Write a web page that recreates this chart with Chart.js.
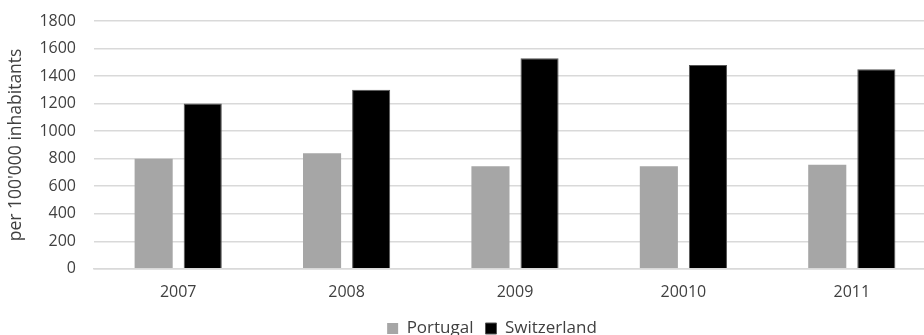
<!DOCTYPE html>
<html>
<head>
<meta charset="utf-8">
<script src="https://cdn.jsdelivr.net/npm/chart.js@4"></script>
<style>
  html, body { margin: 0; padding: 0; background: #fff; overflow: hidden; }
  #wrap { width: 936px; height: 335px; position: relative; }
</style>
</head>
<body>
<div id="wrap"><canvas id="c"></canvas></div>
<script>
const years = ['2007', '2008', '2009', '20010', '2011'];
const portugal = [800, 840, 745, 745, 755];
const switzerland = [1200, 1300, 1530, 1480, 1450];
const yTicks = { min: 0, max: 1800, step: 200 };
const axisTitle = "per 100'000 inhabitants";

const textColor = '#404040';
const gridColor = '#d9d9d9';
const fontFamily = "'Open Sans', 'Liberation Sans', sans-serif";

// Nudges the bottom legend a little to the right of the canvas centre.
const legendShift = {
  id: 'legendShift',
  afterLayout(chart) {
    const lg = chart.legend;
    if (lg) { lg.left += 21; lg.right += 21; }
  }
};

new Chart(document.getElementById('c'), {
  type: 'bar',
  data: {
    labels: years,
    datasets: [
      {
        label: 'Portugal',
        data: portugal,
        backgroundColor: '#a6a6a6',
        borderWidth: 0,
        categoryPercentage: 0.583,
        barPercentage: 0.776
      },
      {
        label: 'Switzerland',
        data: switzerland,
        backgroundColor: '#000000',
        borderColor: '#555555',
        borderWidth: 1,
        categoryPercentage: 0.583,
        barPercentage: 0.776
      }
    ]
  },
  plugins: [legendShift],
  options: {
    responsive: true,
    maintainAspectRatio: false,
    animation: false,
    layout: { padding: { top: 0, left: 6, right: 0, bottom: -12 } },
    plugins: {
      legend: {
        position: 'bottom',
        labels: {
          boxWidth: 11,
          boxHeight: 11,
          padding: 12,
          color: textColor,
          font: { family: fontFamily, size: 17 }
        }
      },
      tooltip: { enabled: false }
    },
    scales: {
      x: {
        grid: { display: false },
        border: { display: true, color: gridColor, width: 1.5 },
        ticks: { color: textColor, font: { family: fontFamily, size: 16 }, padding: 6 }
      },
      y: {
        min: yTicks.min,
        max: yTicks.max,
        afterFit: scale => { scale.width = 88; scale.paddingTop = 21; },
        ticks: {
          stepSize: yTicks.step,
          color: textColor,
          font: { family: fontFamily, size: 16 },
          padding: 18,
          callback: v => String(v)
        },
        grid: { color: gridColor, lineWidth: 1.5, drawTicks: false },
        border: { display: false },
        title: {
          display: true,
          text: axisTitle,
          color: textColor,
          font: { family: fontFamily, size: 17.5 },
          padding: { top: 0, bottom: 0 }
        }
      }
    }
  }
});
</script>
</body>
</html>
